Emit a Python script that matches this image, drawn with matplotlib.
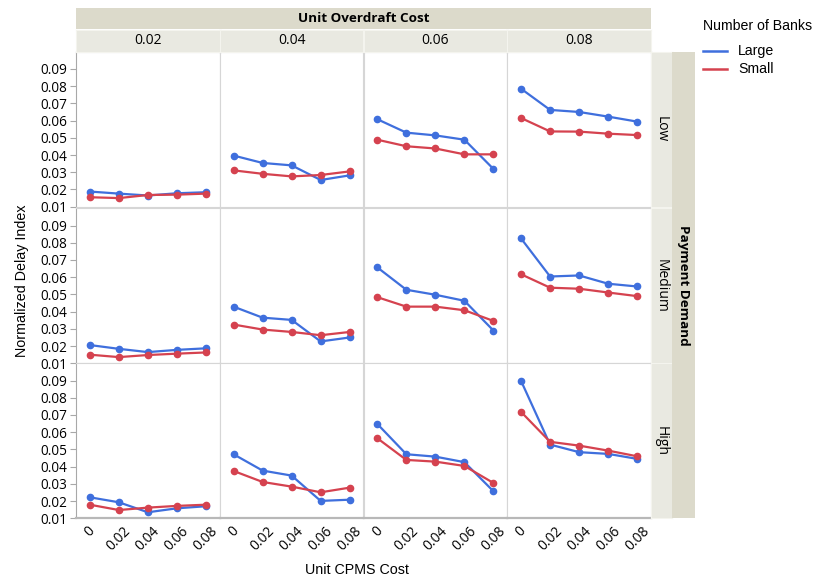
"""
Normalized delay index by unit CPMS cost, faceted by overdraft cost and payment demand.
"""

import matplotlib
matplotlib.use("Agg")
import matplotlib.pyplot as plt

W, H = 814, 580

cpms_cost = [0, 0.02, 0.04, 0.06, 0.08]
cpms_labels = ["0", "0.02", "0.04", "0.06", "0.08"]
overdraft_labels = ["0.02", "0.04", "0.06", "0.08"]
demand_labels = ["Low", "Medium", "High"]
y_ticks = [0.01, 0.02, 0.03, 0.04, 0.05, 0.06, 0.07, 0.08, 0.09]

# one list per overdraft cost column, five values along CPMS cost
large_low = [
    [0.0188, 0.0176, 0.0165, 0.0178, 0.0184],
    [0.0397, 0.0354, 0.0340, 0.0255, 0.0282],
    [0.0608, 0.0530, 0.0514, 0.0489, 0.0319],
    [0.0785, 0.0662, 0.0650, 0.0623, 0.0594],
]
small_low = [
    [0.0155, 0.0150, 0.0168, 0.0170, 0.0176],
    [0.0311, 0.0291, 0.0276, 0.0284, 0.0305],
    [0.0489, 0.0451, 0.0438, 0.0404, 0.0404],
    [0.0615, 0.0537, 0.0536, 0.0524, 0.0516],
]
large_medium = [
    [0.0206, 0.0184, 0.0165, 0.0178, 0.0187],
    [0.0429, 0.0365, 0.0352, 0.0227, 0.0250],
    [0.0657, 0.0527, 0.0498, 0.0463, 0.0290],
    [0.0825, 0.0604, 0.0610, 0.0562, 0.0546],
]
small_medium = [
    [0.0150, 0.0136, 0.0148, 0.0156, 0.0163],
    [0.0325, 0.0296, 0.0282, 0.0263, 0.0282],
    [0.0484, 0.0429, 0.0429, 0.0408, 0.0346],
    [0.0617, 0.0539, 0.0533, 0.0511, 0.0490],
]
large_high = [
    [0.0222, 0.0193, 0.0135, 0.0158, 0.0170],
    [0.0472, 0.0377, 0.0348, 0.0201, 0.0208],
    [0.0648, 0.0472, 0.0458, 0.0426, 0.0257],
    [0.0898, 0.0528, 0.0484, 0.0474, 0.0445],
]
small_high = [
    [0.0179, 0.0148, 0.0162, 0.0172, 0.0179],
    [0.0375, 0.0311, 0.0284, 0.0251, 0.0278],
    [0.0565, 0.0439, 0.0429, 0.0404, 0.0305],
    [0.0718, 0.0544, 0.0522, 0.0493, 0.0460],
]

large_rows = [large_low, large_medium, large_high]
small_rows = [small_low, small_medium, small_high]

BLUE = "#3f6fdd"
RED = "#d5424f"
DARK_STRIP = "#dcdacb"
LIGHT_STRIP = "#e9e9e1"
GRID = "#d6d6d6"

tick_font = "Open Sans"
label_font = "Liberation Sans"


def px_rect(x, y, w, h):
    """Convert a pixel box (top-left origin) to figure fractions."""
    return [x / W, 1 - (y + h) / H, w / W, h / H]


def strip(x, y, w, h, color, edge=None):
    ax = fig.add_axes(px_rect(x, y, w, h))
    ax.set_facecolor(color)
    ax.set_xticks([])
    ax.set_yticks([])
    for spine in ax.spines.values():
        if edge is None:
            spine.set_visible(False)
        else:
            spine.set_color(edge)
            spine.set_linewidth(0.8)
    return ax


fig = plt.figure(figsize=(W / 100, H / 100), dpi=100)

x0, col_w = 76, 143.75
row_tops = [51.7, 208.3, 363.3]
row_h = 155

for r, demand in enumerate(demand_labels):
    for c in range(len(overdraft_labels)):
        ax = fig.add_axes(px_rect(x0 + c * col_w, row_tops[r], col_w, row_h))
        ax.plot(cpms_cost, large_rows[r][c], color=BLUE, lw=1.6,
                marker="o", ms=4.5, zorder=3)
        ax.plot(cpms_cost, small_rows[r][c], color=RED, lw=1.6,
                marker="o", ms=4.5, zorder=4)
        ax.set_xlim(-0.0095, 0.0895)
        ax.set_ylim(0.01, 0.1)

        for spine in ax.spines.values():
            spine.set_color(GRID)
            spine.set_linewidth(0.8)

        if c == 0:
            ax.spines["left"].set_color("#a8a8a8")
            ax.set_yticks(y_ticks)
            ax.set_yticklabels([f"{v:.2f}" for v in y_ticks],
                               fontfamily=tick_font, fontsize=9.8)
            ax.tick_params(axis="y", length=4, width=0.8,
                           color="#a8a8a8", pad=2)
        else:
            ax.set_yticks([])

        if r == len(demand_labels) - 1:
            ax.spines["bottom"].set_color("#b8b8b8")
            ax.spines["bottom"].set_linewidth(1.6)
            ax.set_xticks(cpms_cost)
            ax.set_xticklabels(cpms_labels, rotation=45, ha="center",
                               fontfamily=tick_font, fontsize=10)
            ax.tick_params(axis="x", length=0, pad=4)
        else:
            ax.set_xticks([])

# top strips
top = strip(x0, 8, 4 * col_w, 21, DARK_STRIP)
top.text(0.5, 0.5, "Unit Overdraft Cost", ha="center", va="center",
         fontfamily=tick_font, fontsize=9.7, fontweight="bold")
for c, label in enumerate(overdraft_labels):
    s = strip(x0 + c * col_w, 30, col_w, 21.7, LIGHT_STRIP, edge="#f4f4ee")
    s.text(0.5, 0.5, label, ha="center", va="center",
           fontfamily=tick_font, fontsize=10)

# right strips
for r, label in enumerate(demand_labels):
    s = strip(651, row_tops[r], 21, row_h, LIGHT_STRIP, edge="#f4f4ee")
    s.text(0.5, 0.5, label, ha="center", va="center", rotation=-90,
           fontfamily=tick_font, fontsize=10)
side = strip(672, row_tops[0], 23, row_tops[-1] + row_h - row_tops[0],
             DARK_STRIP)
side.text(0.5, 0.5, "Payment Demand", ha="center", va="center",
          rotation=-90, fontfamily=tick_font, fontsize=9.7, fontweight="bold")

# axis titles
fig.text(22 / W, 1 - 281 / H, "Normalized Delay Index", rotation=90,
         ha="center", va="center", fontfamily=label_font, fontsize=10.3)
fig.text(357 / W, 1 - 570 / H, "Unit CPMS Cost", ha="center", va="center",
         fontfamily=label_font, fontsize=10.3)

# legend
fig.text(703 / W, 1 - 26 / H, "Number of Banks", ha="left", va="center",
         fontfamily=label_font, fontsize=10.2)
for i, (name, color) in enumerate([("Large", BLUE), ("Small", RED)]):
    y = 1 - (51 + i * 18) / H
    fig.add_artist(plt.Line2D([703 / W, 727 / W], [y, y], color=color,
                              lw=1.8, transform=fig.transFigure))
    fig.text(738 / W, y, name, ha="left", va="center",
             fontfamily=label_font, fontsize=10.2)

fig.savefig("out.png", dpi=100)
plt.close(fig)
